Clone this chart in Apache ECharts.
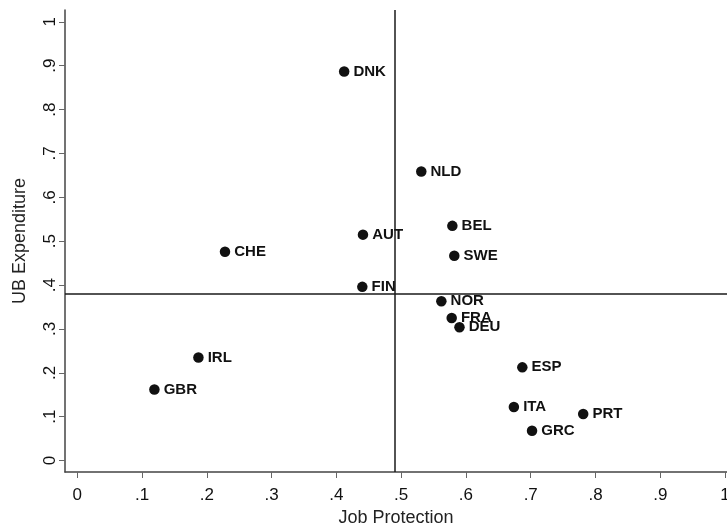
<!DOCTYPE html>
<html>
<head>
<meta charset="utf-8">
<script src="https://cdn.jsdelivr.net/npm/echarts@6/dist/echarts.min.js"></script>
<style>
html,body{margin:0;padding:0;background:#fff;}
#chart{width:727px;height:525px;}
</style>
</head>
<body>
<div id="chart"></div>
<script>
const countries = ["DNK","NLD","AUT","CHE","FIN","BEL","SWE","NOR","FRA","DEU","IRL","GBR","ESP","ITA","PRT","GRC"];
const jobProtection = [0.412,0.531,0.441,0.228,0.440,0.579,0.582,0.562,0.578,0.590,0.187,0.119,0.687,0.674,0.781,0.702];
const ubExpenditure = [0.887,0.659,0.515,0.476,0.396,0.535,0.467,0.363,0.325,0.304,0.235,0.162,0.2125,0.122,0.106,0.068];
const tickValues = [0,0.1,0.2,0.3,0.4,0.5,0.6,0.7,0.8,0.9,1];
const tickLabels = ["0",".1",".2",".3",".4",".5",".6",".7",".8",".9","1"];
const refJobProtection = 0.488;
const refUBExpenditure = 0.380;

const points = countries.map((c, i) => ({ name: c, value: [jobProtection[i], ubExpenditure[i]] }));
const fmt = v => tickLabels[Math.round(v * 10)];
const font = "'Liberation Sans', Arial, sans-serif";

const chart = echarts.init(document.getElementById('chart'), null, { renderer: 'canvas' });
chart.setOption({
  animation: false,
  backgroundColor: '#ffffff',
  grid: { left: 65, right: 0, top: 10, bottom: 53, containLabel: false, outerBoundsMode: 'none' },
  xAxis: {
    type: 'value', min: -0.019, max: 1.003,
    name: 'Job Protection', nameLocation: 'middle', nameGap: 29,
    nameTextStyle: { fontFamily: font, fontSize: 18, color: '#222' },
    axisLine: { show: true, onZero: false, lineStyle: { color: '#444', width: 1.5 } },
    axisTick: { show: true, customValues: tickValues, length: 6, lineStyle: { color: '#666', width: 1 } },
    axisLabel: { customValues: tickValues, formatter: fmt, margin: 15, fontFamily: font, fontSize: 17, color: '#111', showMaxLabel: true, showMinLabel: true },
    splitLine: { show: false }
  },
  yAxis: {
    type: 'value', min: -0.026, max: 1.027,
    name: 'UB Expenditure', nameLocation: 'middle', nameGap: 36, nameRotate: 90,
    nameTextStyle: { fontFamily: font, fontSize: 18, color: '#222' },
    axisLine: { show: true, onZero: false, lineStyle: { color: '#444', width: 1.5 } },
    axisTick: { show: true, customValues: tickValues, length: 6, lineStyle: { color: '#666', width: 1 } },
    axisLabel: { customValues: tickValues, formatter: fmt, rotate: 90, margin: 6, fontFamily: font, fontSize: 17, color: '#111' },
    splitLine: { show: false }
  },
  series: [{
    type: 'scatter',
    data: points,
    symbol: 'circle',
    symbolSize: 10.5,
    itemStyle: { color: '#111', opacity: 1 },
    label: {
      show: true, position: 'right', distance: 4,
      formatter: p => p.name,
      fontFamily: font, fontSize: 15, fontWeight: 'bold', color: '#111'
    },
    markLine: {
      silent: true, symbol: 'none', animation: false,
      label: { show: false },
      lineStyle: { color: '#1a1a1a', width: 1.5, type: 'solid', opacity: 1 },
      data: [{ xAxis: refJobProtection }, { yAxis: refUBExpenditure }]
    }
  }]
});
</script>
</body>
</html>
